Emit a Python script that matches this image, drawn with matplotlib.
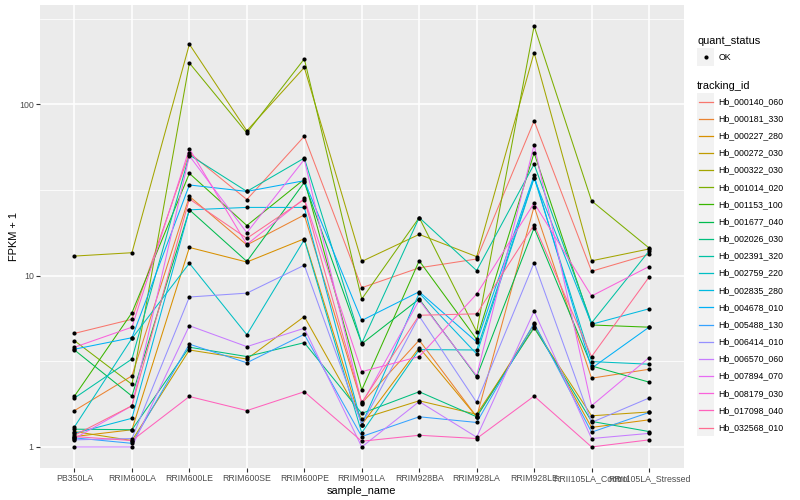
import matplotlib
matplotlib.use("Agg")
import matplotlib.pyplot as plt
import numpy as np
from matplotlib.lines import Line2D
from matplotlib.patches import Rectangle

plt.rcParams['font.family'] = ['Liberation Sans', 'DejaVu Sans']

samples = ["PB350LA", "RRIM600LA", "RRIM600LE", "RRIM600SE", "RRIM600PE",
           "RRIM901LA", "RRIM928BA", "RRIM928LA", "RRIM928LE",
           "RRII105LA_Control", "RRII105LA_Stressed"]

tracking_ids = ["Hb_000140_060", "Hb_000181_330", "Hb_000227_280", "Hb_000272_030",
                "Hb_000322_030", "Hb_001014_020", "Hb_001153_100", "Hb_001677_040",
                "Hb_002026_030", "Hb_002391_320", "Hb_002759_220", "Hb_002835_280",
                "Hb_004678_010", "Hb_005488_130", "Hb_006414_010", "Hb_006570_060",
                "Hb_007894_070", "Hb_008179_030", "Hb_017098_040", "Hb_032568_010"]

colors = ["#F8766D", "#EA8331", "#D89000", "#C09B00", "#A3A500", "#7CAE00", "#39B600",
          "#00BB4E", "#00BF7D", "#00C1A3", "#00BFC4", "#00BAE0", "#00B0F6", "#35A2FF",
          "#9590FF", "#C77CFF", "#E76BF3", "#FA62DB", "#FF62BC", "#FF6C91"]

# FPKM + 1 per sample
hb_000140_060 = [4.6, 5.56, 52, 27.8, 65, 8.5, 11.1, 12.5, 80, 10.6, 13.3]
hb_000181_330 = [1.63, 2.6, 29, 15.1, 22.6, 1.8, 4.2, 1.5, 25.3, 2.52, 2.84]
hb_000227_280 = [1.15, 1.26, 14.6, 12.0, 16.4, 1.35, 3.8, 1.5, 5.2, 1.3, 1.44]
hb_000272_030 = [1.23, 1.09, 3.68, 3.26, 5.77, 1.46, 1.86, 1.55, 4.95, 1.52, 1.6]
hb_000322_030 = [13.0, 13.6, 224, 70, 164, 12.1, 17.4, 12.9, 200, 12.2, 14.3]
hb_001014_020 = [4.17, 2.32, 174, 68, 184, 7.3, 21.8, 4.7, 286, 27.3, 14.5]
hb_001153_100 = [1.98, 6.07, 39.5, 19.6, 36.5, 2.15, 12.2, 4.25, 52, 5.15, 5.0]
hb_001677_040 = [3.68, 1.98, 24.2, 12.1, 35, 4.0, 7.3, 2.57, 19.0, 2.97, 2.39]
hb_002026_030 = [1.27, 1.26, 3.82, 3.37, 4.06, 1.57, 2.1, 1.5, 5.0, 1.41, 1.23]
hb_002391_320 = [1.93, 3.26, 50.6, 31, 48.5, 4.03, 21.8, 10.7, 44.7, 5.3, 13.9]
hb_002759_220 = [1.31, 4.3, 11.8, 4.52, 16.2, 1.21, 3.7, 3.68, 37.3, 3.15, 3.04]
hb_002835_280 = [1.2, 1.47, 24.2, 25, 25, 1.35, 7.9, 3.49, 37, 5.2, 6.4]
hb_004678_010 = [3.72, 4.34, 33.8, 31, 35.8, 5.47, 8.05, 4.1, 38.4, 2.88, 5.0]
hb_005488_130 = [1.13, 1.05, 3.98, 3.1, 4.54, 1.15, 1.5, 1.39, 5.27, 1.22, 1.59]
hb_006414_010 = [1.1, 1.12, 7.5, 7.9, 11.5, 1.35, 5.8, 1.82, 11.9, 1.39, 1.93]
hb_006570_060 = [1.0, 1.0, 5.1, 3.85, 4.93, 1.0, 1.84, 1.14, 6.2, 1.12, 1.2]
hb_007894_070 = [1.12, 1.74, 50, 17.8, 47.6, 1.78, 7.2, 2.6, 58, 1.74, 3.32]
hb_008179_030 = [3.82, 5.0, 55, 15.2, 28.2, 2.75, 3.37, 7.8, 26.5, 7.6, 11.3]
hb_017098_040 = [1.15, 1.09, 1.97, 1.63, 2.1, 1.08, 1.17, 1.12, 1.98, 1.0, 1.1]
hb_032568_010 = [1.17, 1.74, 28, 16.5, 27.8, 1.82, 5.87, 5.98, 19.8, 3.37, 9.8]

series = [hb_000140_060, hb_000181_330, hb_000227_280, hb_000272_030, hb_000322_030,
          hb_001014_020, hb_001153_100, hb_001677_040, hb_002026_030, hb_002391_320,
          hb_002759_220, hb_002835_280, hb_004678_010, hb_005488_130, hb_006414_010,
          hb_006570_060, hb_007894_070, hb_008179_030, hb_017098_040, hb_032568_010]

W, H = 800, 500
fig = plt.figure(figsize=(W / 100, H / 100), dpi=100)
fig.patch.set_facecolor("white")

pl, pr, pt, pb = 40, 683.5, 5, 468
ax = fig.add_axes([pl / W, 1 - pb / H, (pr - pl) / W, (pb - pt) / H])
ax.set_facecolor("#EBEBEB")
for s in ax.spines.values():
    s.set_visible(False)

x = np.arange(len(samples))
ax.set_yscale("log")
allv = np.log10(np.concatenate([np.array(v, float) for v in series]))
lo, hi = allv.min(), allv.max()
ex = 0.05 * (hi - lo)
ax.set_ylim(10 ** (lo - ex), 10 ** (hi + ex))
ax.set_xlim(-0.6, len(samples) - 1 + 0.6)

# grid
for v in [1, 10, 100]:
    ax.axhline(v, color="white", lw=1.1, zorder=1)
for v in [10 ** 0.5, 10 ** 1.5, 10 ** 2.5]:
    ax.axhline(v, color="white", lw=0.55, zorder=1)
for xi in x:
    ax.axvline(xi, color="white", lw=1.1, zorder=1)

for vals, c in zip(series, colors):
    ax.plot(x, vals, color=c, lw=0.75, zorder=2, solid_capstyle="butt")
for vals in series:
    ax.plot(x, vals, linestyle="none", marker="o", ms=3.0, color="black",
            markeredgewidth=0, zorder=3)

ax.yaxis.set_minor_locator(matplotlib.ticker.NullLocator())
ax.set_yticks([1, 10, 100])
ax.set_yticklabels(["1", "10", "100"])
ax.set_xticks(x)
ax.set_xticklabels(samples)
ax.tick_params(axis="both", which="major", length=3, width=0.8, color="#333333",
               labelcolor="#4D4D4D", labelsize=6.3, pad=1.5)
ax.set_xlabel("sample_name", fontsize=7.9, color="black", labelpad=2)
ax.set_ylabel("FPKM + 1", fontsize=7.9, color="black")
ax.yaxis.set_label_coords((19 - pl) / (pr - pl), 0.5)

# legend (drawn in pixel coordinates)
lg = fig.add_axes([0, 0, 1, 1])
lg.set_xlim(0, W)
lg.set_ylim(H, 0)
lg.axis("off")
lg.patch.set_alpha(0)

kx, kw = 697, 17.2
lg.text(kx, 41, "quant_status", fontsize=7.9, va="center", ha="left", color="black")
lg.add_patch(Rectangle((kx, 57 - kw / 2), kw, kw, facecolor="#F2F2F2", edgecolor="none"))
lg.plot([kx + kw / 2], [57], marker="o", ms=3.0, color="black", markeredgewidth=0)
lg.text(kx + kw + 4, 57, "OK", fontsize=6.3, va="center", ha="left", color="black")

lg.text(kx, 86, "tracking_id", fontsize=7.9, va="center", ha="left", color="black")
y0, dy = 101.5, 17.16
for i, (name, c) in enumerate(zip(tracking_ids, colors)):
    yy = y0 + i * dy
    lg.add_patch(Rectangle((kx, yy - kw / 2), kw, kw, facecolor="#F2F2F2", edgecolor="none"))
    lg.plot([kx + 1.7, kx + kw - 1.7], [yy, yy], color=c, lw=0.9)
    lg.text(kx + kw + 4, yy, name, fontsize=6.3, va="center", ha="left", color="black")

fig.savefig("out.png", dpi=100)
